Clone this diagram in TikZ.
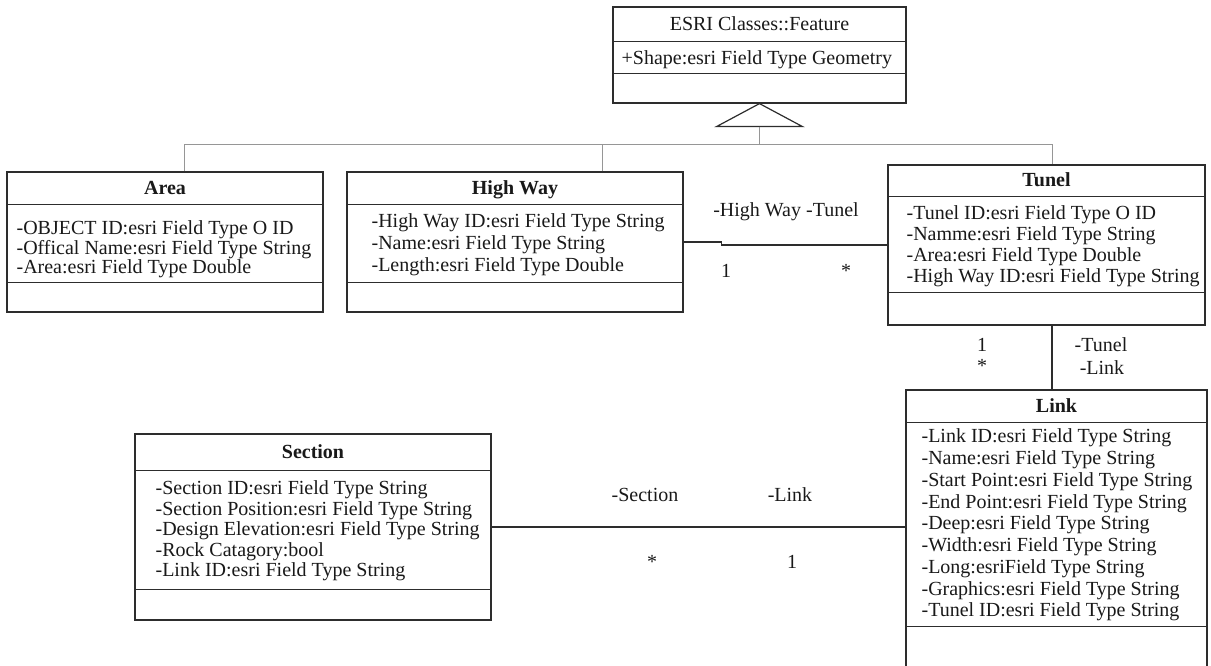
\documentclass[tikz,border=0pt]{standalone}
\usepackage{fontspec}
\setmainfont{Liberation Serif}
\usepackage{xcolor}
\definecolor{line-dark}{RGB}{45,45,45}
\definecolor{line-gray}{RGB}{150,150,150}
\definecolor{text-dark}{RGB}{25,25,25}
\usetikzlibrary{positioning}

\begin{document}
\begin{tikzpicture}[
    x=1pt, y=-1pt,
    cls box/.style={
        draw=line-dark,
        line width=1.2pt,
        fill=white,
        inner sep=0pt
    },
    cls title/.style={
        font=\fontsize{20}{21}\selectfont\bfseries,
        text=text-dark,
        anchor=base,
        inner sep=0pt
    },
    cls attr/.style={
        font=\fontsize{20}{#1}\selectfont,
        text=text-dark,
        anchor=north west,
        align=left,
        inner sep=0pt
    },
    divider/.style={draw=line-dark, line width=1.2pt},
    assoc/.style={draw=line-dark, line width=1.6pt},
    inherit/.style={draw=line-gray, line width=0.9pt},
    role/.style={
        font=\fontsize{20}{21}\selectfont,
        text=text-dark,
        anchor=base,
        inner sep=0pt
    }
]

\useasboundingbox (0,0) rectangle (1211,666);
\clip (0,0) rectangle (1211,666);

% Feature - superclass
\node[cls box, minimum width=293, minimum height=96] (feature) at (759.5,55) {};
\node[cls title, font=\fontsize{20}{21}\selectfont] (featureT) at ([yshift=-24]feature.north) {ESRI Classes::Feature};
\draw[divider] ([yshift=-35]feature.north west) -- ([yshift=-35]feature.north east);
\node[cls attr=21] (featureA) at ([xshift=9, yshift=-44.5]feature.north west) {+Shape:esri Field Type Geometry};
\draw[divider] ([yshift=-67]feature.north west) -- ([yshift=-67]feature.north east);

% Area
\node[cls box, minimum width=316, minimum height=140] (area) at (165,242) {};
\node[cls title] (areaT) at ([yshift=-23]area.north) {Area};
\draw[divider] ([yshift=-33]area.north west) -- ([yshift=-33]area.north east);
\node[cls attr=15.5] (areaA) at ([xshift=10, yshift=-49.5]area.north west) {-OBJECT ID:esri Field Type O ID\\-Offical Name:esri Field Type String\\-Area:esri Field Type Double};
\draw[divider] ([yshift=-111]area.north west) -- ([yshift=-111]area.north east);

% High Way
\node[cls box, minimum width=336, minimum height=140] (hw) at (515,242) {};
\node[cls title] (hwT) at ([yshift=-23]hw.north) {High Way};
\draw[divider] ([yshift=-33]hw.north west) -- ([yshift=-33]hw.north east);
\node[cls attr=22] (hwA) at ([xshift=25, yshift=-42.5]hw.north west) {-High Way ID:esri Field Type String\\-Name:esri Field Type String\\-Length:esri Field Type Double};
\draw[divider] ([yshift=-111]hw.north west) -- ([yshift=-111]hw.north east);

% Tunel
\node[cls box, minimum width=317, minimum height=160] (tunel) at (1046.5,245) {};
\node[cls title] (tunelT) at ([yshift=-22.5]tunel.north) {Tunel};
\draw[divider] ([yshift=-32]tunel.north west) -- ([yshift=-32]tunel.north east);
\node[cls attr=21] (tunelA) at ([xshift=19, yshift=-41.5]tunel.north west) {-Tunel ID:esri Field Type O ID\\-Namme:esri Field Type String\\-Area:esri Field Type Double\\-High Way ID:esri Field Type String};
\draw[divider] ([yshift=-128]tunel.north west) -- ([yshift=-128]tunel.north east);

% Link
\node[cls box, minimum width=301, minimum height=300] (link) at (1056.5,540) {};
\node[cls title] (linkT) at ([yshift=-23]link.north) {Link};
\draw[divider] ([yshift=-33]link.north west) -- ([yshift=-33]link.north east);
\node[cls attr=21.75] (linkA) at ([xshift=16, yshift=-39.5]link.north west) {-Link ID:esri Field Type String\\-Name:esri Field Type String\\-Start Point:esri Field Type String\\-End Point:esri Field Type String\\-Deep:esri Field Type String\\-Width:esri Field Type String\\-Long:esriField Type String\\-Graphics:esri Field Type String\\-Tunel ID:esri Field Type String};
\draw[divider] ([yshift=-237]link.north west) -- ([yshift=-237]link.north east);

% Section
\node[cls box, minimum width=356, minimum height=186] (sec) at (313,527) {};
\node[cls title] (secT) at ([yshift=-25]sec.north) {Section};
\draw[divider] ([yshift=-37]sec.north west) -- ([yshift=-37]sec.north east);
\node[cls attr=20.5] (secA) at ([xshift=21, yshift=-47.5]sec.north west) {-Section ID:esri Field Type String\\-Section Position:esri Field Type String\\-Design Elevation:esri Field Type String\\-Rock Catagory:bool\\-Link ID:esri Field Type String};
\draw[divider] ([yshift=-156]sec.north west) -- ([yshift=-156]sec.north east);

% Generalization
\coordinate (tri) at ([yshift=-23]feature.south);
\draw[divider, fill=white] (feature.south) -- ([xshift=-43]tri) -- ([xshift=43]tri) -- cycle;
\draw[inherit] (tri) -- ([yshift=-18]tri) coordinate (bus);
\coordinate (areaTop) at ([xshift=19]area.north);
\coordinate (hwTop) at ([xshift=87]hw.north);
\coordinate (tunelTop) at ([xshift=5.5]tunel.north);
\draw[inherit] (areaTop) |- (bus) -| (tunelTop);
\draw[inherit] (hwTop) -- (hwTop |- bus);

% Associations
\draw[assoc] (hw.east) -- ++(38,0) |- (tunel.west);
\draw[assoc] ([xshift=5.5]tunel.south) -- ([xshift=-4.5]link.north);
\draw[assoc] (sec.east) -- (sec.east -| link.west);

% Role names and multiplicities
\node[role] (hwRole) at (786,217) {-High Way -Tunel};
\node[role] (hwOne) at (726,277) {1};
\node[role] (hwMany) at (846,277) {*};
\node[role] (tlOne) at (982,351) {1};
\node[role] (tlMany) at (982,372) {*};
\node[role] (tlTunel) at (1101,351) {-Tunel};
\node[role] (tlLink) at (1102,374) {-Link};
\node[role] (slSec) at (645,501) {-Section};
\node[role] (slLink) at (790,501) {-Link};
\node[role] (slMany) at (652,568) {*};
\node[role] (slOne) at (792,568) {1};

\end{tikzpicture}
\end{document}
